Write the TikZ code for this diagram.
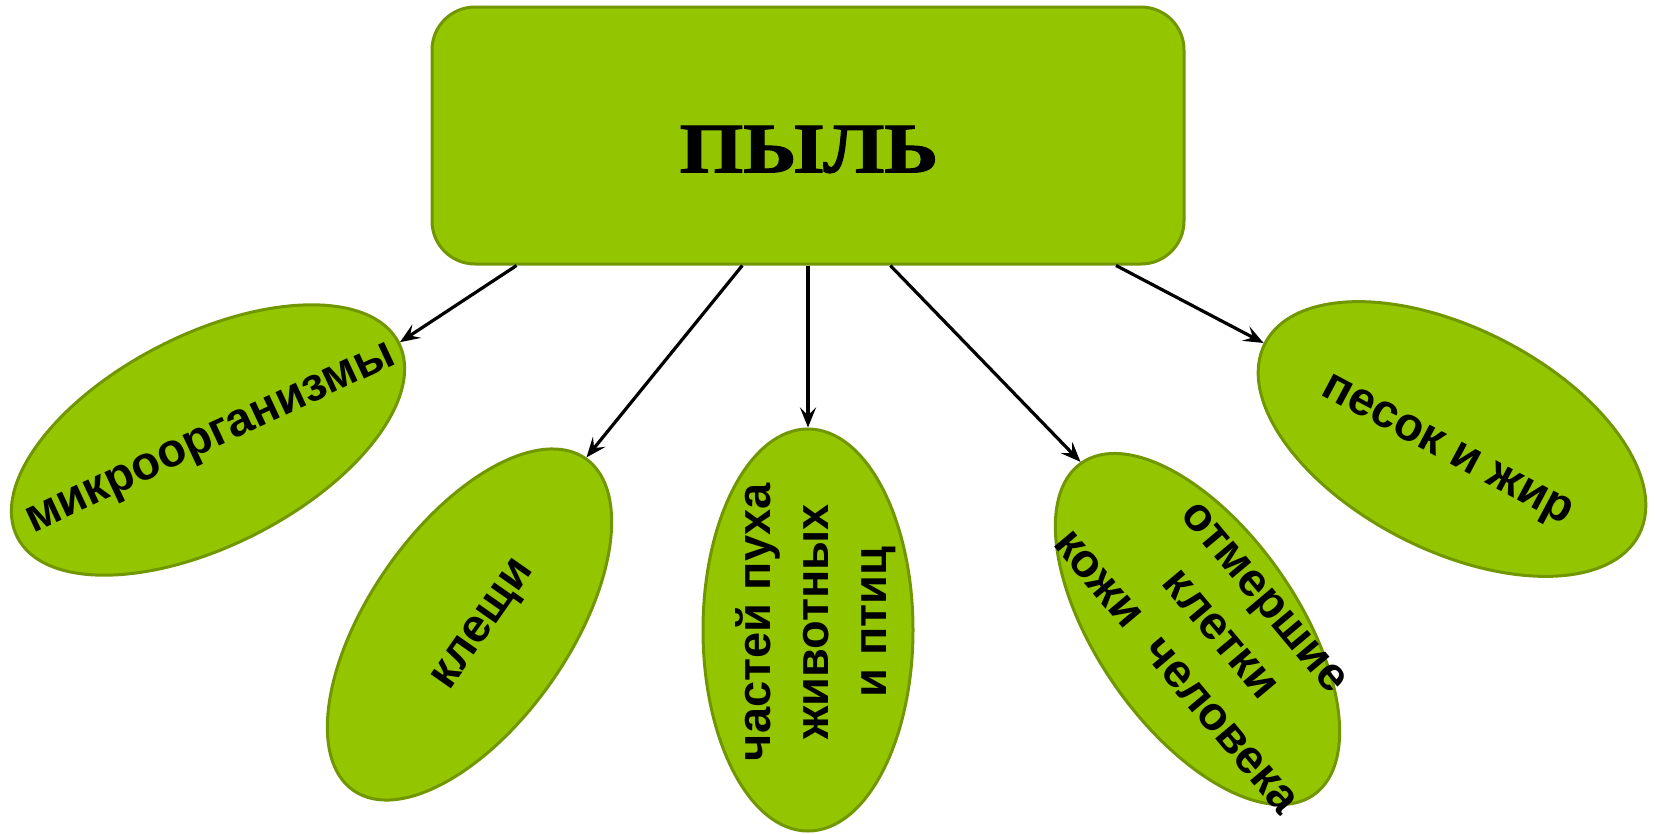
\documentclass[tikz,border=0pt]{standalone}
\usepackage{graphicx}
\usepackage{fontspec}
\setmainfont{Liberation Sans}
\newfontfamily\titlef{Liberation Serif}[UprightFont=* Bold, RawFeature={embolden=1.5}]
\usetikzlibrary{shapes.geometric,arrows.meta,calc}
\definecolor{leaf}{RGB}{148,198,0}
\definecolor{leafedge}{RGB}{112,150,0}
\tikzset{
  topbox/.style={draw=leafedge, fill=leaf, line width=3pt, rounded corners=43pt, inner sep=0pt},
  ell/.style={ellipse, draw=leafedge, fill=leaf, line width=3pt, inner sep=0pt},
  lbl/.style={font=\bfseries\fontsize{47}{58}\selectfont, align=center, inner sep=0pt, text=black},
  ttl/.style={font=\titlef\fontsize{71}{80}\selectfont, inner sep=0pt, text=black},
  arr/.style={draw=black, line width=3.2pt, -{Stealth[length=20pt,width=16pt,inset=8pt]}}
}
\begin{document}
\begin{tikzpicture}[x=1pt,y=-1pt]
\useasboundingbox (0,0) rectangle (1655,833);
% central box
\node[topbox, minimum width=752pt, minimum height=257pt] (top) at (808,135.5) {};
\node[ttl] (title) at (809,149.5) {\scalebox{1.15}[1]{ПЫЛЬ}};
% ellipses
\node[ell, minimum width=428pt, minimum height=211pt, rotate=27] (e1) at (208,440) {};
\node[ell, minimum width=405pt, minimum height=200pt, rotate=55] (e2) at (469.5,624.5) {};
\node[ell, minimum width=210pt, minimum height=402pt] (e3) at (808,630) {};
\node[ell, minimum width=405pt, minimum height=200pt, rotate=-55] (e4) at (1197.5,629) {};
\node[ell, minimum width=420pt, minimum height=222pt, rotate=-27] (e5) at (1452,439) {};
% labels
\node[lbl, rotate=25] (t1) at (212,441) {микроорганизмы};
\node[lbl, rotate=55] (t2) at (485,626) {клещи};
\node[lbl, rotate=90] (t3) at (816,622) {частей пуха\\животных\\и птиц};
\node[lbl, rotate=-50] (t4) at (1220,635) {отмершие\\клетки\\кожи\ \ человека};
\node[lbl, rotate=-28] (t5) at (1446,453) {песок и жир};
% arrow starts on the box
\coordinate (c1) at ($(top.south west)!0.114!(top.south east)$);
\coordinate (c2) at ($(top.south west)!0.413!(top.south east)$);
\coordinate (c3) at ($(top.south west)!0.500!(top.south east)$);
\coordinate (c4) at ($(top.south west)!0.609!(top.south east)$);
\coordinate (c5) at ($(top.south west)!0.908!(top.south east)$);
\draw[arr] (c1) -- (e1.east);
\draw[arr] (c2) -- (e2.east);
\draw[arr] (c3) -- (e3.north);
\draw[arr] (c4) -- (e4.west);
\draw[arr] (c5) -- (e5.west);
\end{tikzpicture}
\end{document}
